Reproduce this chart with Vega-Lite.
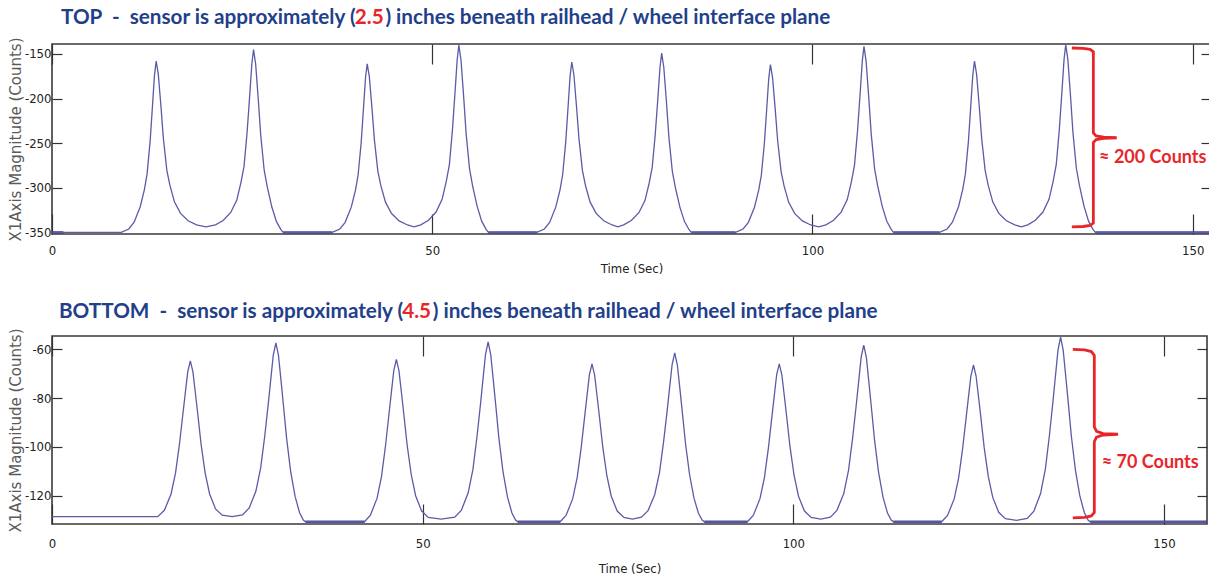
{
  "$schema": "https://vega.github.io/schema/vega-lite/v6.json",
  "background": "white",
  "padding": {"left": 7, "top": 6, "right": 0, "bottom": 0},
  "config": {
    "view": {"stroke": "#3a3a3a", "strokeWidth": 1.6},
    "concat": {"spacing": 24},
    "axis": {"grid": false, "domain": false, "tickColor": "#333333", "tickWidth": 1.2}
  },
  "datasets": {
    "top": [
      {"t": 0, "v": -350},
      {"t": 9.1, "v": -350}, {"t": 10.1, "v": -346.2}, {"t": 10.8, "v": -338.5}, {"t": 11.6, "v": -321.2}, {"t": 12.15, "v": -302.0}, {"t": 12.5, "v": -284.7}, {"t": 12.9, "v": -248.2}, {"t": 13.2, "v": -209.8}, {"t": 13.48, "v": -173.4}, {"t": 13.7, "v": -158},
      {"t": 13.98, "v": -172.8}, {"t": 14.32, "v": -208.1}, {"t": 14.65, "v": -245.2}, {"t": 15.1, "v": -280.4}, {"t": 15.5, "v": -297.1}, {"t": 16.1, "v": -315.7}, {"t": 16.9, "v": -328.7}, {"t": 17.9, "v": -337.0}, {"t": 19.0, "v": -341.6}, {"t": 20.25, "v": -343.8},
      {"t": 21.5, "v": -341.5}, {"t": 22.5, "v": -336.6}, {"t": 23.5, "v": -327.6}, {"t": 24.3, "v": -313.7}, {"t": 24.85, "v": -293.9}, {"t": 25.25, "v": -276.0}, {"t": 25.65, "v": -238.3}, {"t": 25.98, "v": -198.6}, {"t": 26.28, "v": -160.9}, {"t": 26.5, "v": -145},
      {"t": 26.78, "v": -161.4}, {"t": 27.12, "v": -200.4}, {"t": 27.45, "v": -241.4}, {"t": 27.9, "v": -280.3}, {"t": 28.3, "v": -298.8}, {"t": 28.9, "v": -321.3}, {"t": 29.5, "v": -337.7}, {"t": 30.1, "v": -346.9}, {"t": 30.4, "v": -350},
      {"t": 36.85, "v": -350}, {"t": 37.85, "v": -346.2}, {"t": 38.55, "v": -338.7}, {"t": 39.35, "v": -321.7}, {"t": 39.9, "v": -302.8}, {"t": 40.25, "v": -285.7}, {"t": 40.65, "v": -249.8}, {"t": 40.95, "v": -212.0}, {"t": 41.23, "v": -176.1}, {"t": 41.45, "v": -161},
      {"t": 41.73, "v": -175.6}, {"t": 42.07, "v": -210.3}, {"t": 42.4, "v": -246.8}, {"t": 42.85, "v": -281.5}, {"t": 43.25, "v": -297.9}, {"t": 43.85, "v": -316.1}, {"t": 44.65, "v": -328.9}, {"t": 45.65, "v": -337.1}, {"t": 46.75, "v": -341.7}, {"t": 47.6, "v": -343.8},
      {"t": 48.5, "v": -341.5}, {"t": 49.5, "v": -336.4}, {"t": 50.5, "v": -327.2}, {"t": 51.3, "v": -313.0}, {"t": 51.85, "v": -292.6}, {"t": 52.25, "v": -274.3}, {"t": 52.65, "v": -235.6}, {"t": 52.98, "v": -194.9}, {"t": 53.28, "v": -156.3}, {"t": 53.5, "v": -140},
      {"t": 53.78, "v": -156.8}, {"t": 54.12, "v": -196.7}, {"t": 54.45, "v": -238.7}, {"t": 54.9, "v": -278.6}, {"t": 55.3, "v": -297.5}, {"t": 55.9, "v": -320.6}, {"t": 56.5, "v": -337.4}, {"t": 57.1, "v": -346.9}, {"t": 57.4, "v": -350},
      {"t": 63.75, "v": -350}, {"t": 64.75, "v": -346.2}, {"t": 65.45, "v": -338.5}, {"t": 66.25, "v": -321.4}, {"t": 66.8, "v": -302.3}, {"t": 67.15, "v": -285.1}, {"t": 67.55, "v": -248.8}, {"t": 67.85, "v": -210.6}, {"t": 68.13, "v": -174.3}, {"t": 68.35, "v": -159},
      {"t": 68.63, "v": -173.8}, {"t": 68.97, "v": -208.8}, {"t": 69.3, "v": -245.7}, {"t": 69.75, "v": -280.8}, {"t": 70.15, "v": -297.4}, {"t": 70.75, "v": -315.8}, {"t": 71.55, "v": -328.7}, {"t": 72.55, "v": -337.0}, {"t": 73.65, "v": -341.7}, {"t": 74.4, "v": -343.8},
      {"t": 75.17, "v": -341.6}, {"t": 76.17, "v": -336.7}, {"t": 77.17, "v": -327.9}, {"t": 77.97, "v": -314.3}, {"t": 78.52, "v": -294.9}, {"t": 78.92, "v": -277.4}, {"t": 79.32, "v": -240.4}, {"t": 79.65, "v": -201.5}, {"t": 79.95, "v": -164.6}, {"t": 80.17, "v": -149},
      {"t": 80.45, "v": -165.1}, {"t": 80.79, "v": -203.3}, {"t": 81.12, "v": -243.5}, {"t": 81.57, "v": -281.7}, {"t": 81.97, "v": -299.8}, {"t": 82.57, "v": -321.9}, {"t": 83.17, "v": -337.9}, {"t": 83.77, "v": -347.0}, {"t": 84.07, "v": -350},
      {"t": 89.87, "v": -350}, {"t": 90.87, "v": -346.2}, {"t": 91.57, "v": -338.7}, {"t": 92.37, "v": -321.8}, {"t": 92.92, "v": -303.0}, {"t": 93.27, "v": -286.1}, {"t": 93.67, "v": -250.4}, {"t": 93.97, "v": -212.8}, {"t": 94.25, "v": -177.0}, {"t": 94.47, "v": -162},
      {"t": 94.75, "v": -176.5}, {"t": 95.09, "v": -211.0}, {"t": 95.42, "v": -247.3}, {"t": 95.87, "v": -281.8}, {"t": 96.27, "v": -298.1}, {"t": 96.87, "v": -316.3}, {"t": 97.67, "v": -329.0}, {"t": 98.67, "v": -337.1}, {"t": 99.77, "v": -341.7}, {"t": 100.8, "v": -343.8},
      {"t": 101.77, "v": -341.5}, {"t": 102.77, "v": -336.4}, {"t": 103.77, "v": -327.3}, {"t": 104.57, "v": -313.2}, {"t": 105.12, "v": -293.0}, {"t": 105.52, "v": -274.8}, {"t": 105.92, "v": -236.4}, {"t": 106.25, "v": -196.0}, {"t": 106.55, "v": -157.7}, {"t": 106.77, "v": -141.5},
      {"t": 107.05, "v": -158.2}, {"t": 107.39, "v": -197.8}, {"t": 107.72, "v": -239.5}, {"t": 108.17, "v": -279.1}, {"t": 108.57, "v": -297.9}, {"t": 109.17, "v": -320.8}, {"t": 109.77, "v": -337.5}, {"t": 110.37, "v": -346.9}, {"t": 110.67, "v": -350},
      {"t": 116.7, "v": -350}, {"t": 117.7, "v": -346.2}, {"t": 118.4, "v": -338.5}, {"t": 119.2, "v": -321.2}, {"t": 119.75, "v": -302.0}, {"t": 120.1, "v": -284.7}, {"t": 120.5, "v": -248.2}, {"t": 120.8, "v": -209.8}, {"t": 121.08, "v": -173.4}, {"t": 121.3, "v": -158},
      {"t": 121.58, "v": -172.8}, {"t": 121.92, "v": -208.1}, {"t": 122.25, "v": -245.2}, {"t": 122.7, "v": -280.4}, {"t": 123.1, "v": -297.1}, {"t": 123.7, "v": -315.7}, {"t": 124.5, "v": -328.7}, {"t": 125.5, "v": -337.0}, {"t": 126.6, "v": -341.6}, {"t": 127.45, "v": -343.8},
      {"t": 128.3, "v": -341.5}, {"t": 129.3, "v": -336.4}, {"t": 130.3, "v": -327.2}, {"t": 131.1, "v": -312.9}, {"t": 131.65, "v": -292.5}, {"t": 132.05, "v": -274.1}, {"t": 132.45, "v": -235.4}, {"t": 132.78, "v": -194.6}, {"t": 133.08, "v": -155.8}, {"t": 133.3, "v": -139.5},
      {"t": 133.58, "v": -156.3}, {"t": 133.92, "v": -196.3}, {"t": 134.25, "v": -238.4}, {"t": 134.7, "v": -278.4}, {"t": 135.1, "v": -297.4}, {"t": 135.7, "v": -320.5}, {"t": 136.3, "v": -337.4}, {"t": 136.9, "v": -346.8}, {"t": 137.2, "v": -350},
      {"t": 152.4, "v": -350}
    ],
    "bottom": [
      {"t": 0, "v": -128.6}, {"t": 14.26, "v": -128.6},
      {"t": 15.16, "v": -126.0}, {"t": 16.06, "v": -119.3}, {"t": 16.66, "v": -110.7}, {"t": 17.19, "v": -98.9}, {"t": 17.66, "v": -86.4}, {"t": 17.96, "v": -78.4}, {"t": 18.31, "v": -69.2}, {"t": 18.66, "v": -64.7},
      {"t": 19.01, "v": -69.2}, {"t": 19.36, "v": -78.4}, {"t": 19.66, "v": -86.4}, {"t": 20.11, "v": -98.9}, {"t": 20.66, "v": -110.7}, {"t": 21.26, "v": -119.3}, {"t": 22.06, "v": -125.4}, {"t": 22.96, "v": -128.0}, {"t": 24.3, "v": -128.6},
      {"t": 25.7, "v": -127.9}, {"t": 26.6, "v": -125.0}, {"t": 27.5, "v": -118.2}, {"t": 28.15, "v": -108.6}, {"t": 28.7, "v": -95.5}, {"t": 29.2, "v": -81.5}, {"t": 29.5, "v": -72.6}, {"t": 29.85, "v": -62.3}, {"t": 30.2, "v": -57.3},
      {"t": 30.55, "v": -62.4}, {"t": 30.9, "v": -73.0}, {"t": 31.2, "v": -82.3}, {"t": 31.65, "v": -96.6}, {"t": 32.2, "v": -110.2}, {"t": 32.8, "v": -120.4}, {"t": 33.4, "v": -127.0}, {"t": 33.9, "v": -130.0}, {"t": 34.2, "v": -130.7},
      {"t": 42.15, "v": -130.7}, {"t": 42.95, "v": -128.0}, {"t": 43.85, "v": -121.0}, {"t": 44.45, "v": -112.1}, {"t": 44.98, "v": -99.7}, {"t": 45.45, "v": -86.7}, {"t": 45.75, "v": -78.4}, {"t": 46.1, "v": -68.8}, {"t": 46.45, "v": -64.1},
      {"t": 46.8, "v": -68.7}, {"t": 47.15, "v": -78.1}, {"t": 47.45, "v": -86.3}, {"t": 47.9, "v": -99.1}, {"t": 48.45, "v": -111.2}, {"t": 49.05, "v": -120.0}, {"t": 49.85, "v": -126.2}, {"t": 50.75, "v": -128.9}, {"t": 52.5, "v": -129.6},
      {"t": 54.33, "v": -128.8}, {"t": 55.23, "v": -125.9}, {"t": 56.13, "v": -118.9}, {"t": 56.78, "v": -109.2}, {"t": 57.33, "v": -95.7}, {"t": 57.83, "v": -81.6}, {"t": 58.13, "v": -72.4}, {"t": 58.48, "v": -62.0}, {"t": 58.83, "v": -56.9},
      {"t": 59.18, "v": -62.1}, {"t": 59.53, "v": -72.7}, {"t": 59.83, "v": -82.0}, {"t": 60.28, "v": -96.4}, {"t": 60.83, "v": -110.0}, {"t": 61.43, "v": -120.4}, {"t": 62.03, "v": -127.0}, {"t": 62.53, "v": -130.0}, {"t": 62.83, "v": -130.7},
      {"t": 68.54, "v": -130.7}, {"t": 69.34, "v": -128.1}, {"t": 70.24, "v": -121.2}, {"t": 70.84, "v": -112.6}, {"t": 71.37, "v": -100.6}, {"t": 71.84, "v": -87.9}, {"t": 72.14, "v": -79.8}, {"t": 72.49, "v": -70.4}, {"t": 72.84, "v": -65.9},
      {"t": 73.19, "v": -70.4}, {"t": 73.54, "v": -79.5}, {"t": 73.84, "v": -87.5}, {"t": 74.29, "v": -99.9}, {"t": 74.84, "v": -111.7}, {"t": 75.44, "v": -120.2}, {"t": 76.24, "v": -126.3}, {"t": 77.14, "v": -128.9}, {"t": 78.3, "v": -129.6},
      {"t": 79.5, "v": -128.8}, {"t": 80.4, "v": -126.1}, {"t": 81.3, "v": -119.6}, {"t": 81.95, "v": -110.4}, {"t": 82.5, "v": -97.8}, {"t": 83.0, "v": -84.6}, {"t": 83.3, "v": -76.0}, {"t": 83.65, "v": -66.2}, {"t": 84.0, "v": -61.4},
      {"t": 84.35, "v": -66.3}, {"t": 84.7, "v": -76.2}, {"t": 85.0, "v": -85.0}, {"t": 85.45, "v": -98.5}, {"t": 86.0, "v": -111.3}, {"t": 86.6, "v": -121.0}, {"t": 87.2, "v": -127.2}, {"t": 87.7, "v": -130.0}, {"t": 88.0, "v": -130.7},
      {"t": 93.8, "v": -130.7}, {"t": 94.6, "v": -128.1}, {"t": 95.5, "v": -121.2}, {"t": 96.1, "v": -112.6}, {"t": 96.63, "v": -100.6}, {"t": 97.1, "v": -87.9}, {"t": 97.4, "v": -79.8}, {"t": 97.75, "v": -70.4}, {"t": 98.1, "v": -65.9},
      {"t": 98.45, "v": -70.4}, {"t": 98.8, "v": -79.5}, {"t": 99.1, "v": -87.5}, {"t": 99.55, "v": -99.9}, {"t": 100.1, "v": -111.7}, {"t": 100.7, "v": -120.2}, {"t": 101.5, "v": -126.3}, {"t": 102.4, "v": -128.9}, {"t": 103.7, "v": -129.6},
      {"t": 105.0, "v": -128.8}, {"t": 105.9, "v": -125.9}, {"t": 106.8, "v": -119.1}, {"t": 107.45, "v": -109.5}, {"t": 108.0, "v": -96.3}, {"t": 108.5, "v": -82.4}, {"t": 108.8, "v": -73.5}, {"t": 109.15, "v": -63.2}, {"t": 109.5, "v": -58.2},
      {"t": 109.85, "v": -63.3}, {"t": 110.2, "v": -73.7}, {"t": 110.5, "v": -82.9}, {"t": 110.95, "v": -97.0}, {"t": 111.5, "v": -110.4}, {"t": 112.1, "v": -120.6}, {"t": 112.7, "v": -127.1}, {"t": 113.2, "v": -130.0}, {"t": 113.5, "v": -130.7},
      {"t": 120.0, "v": -130.7}, {"t": 120.8, "v": -128.1}, {"t": 121.7, "v": -121.3}, {"t": 122.3, "v": -112.7}, {"t": 122.83, "v": -100.8}, {"t": 123.3, "v": -88.3}, {"t": 123.6, "v": -80.2}, {"t": 123.95, "v": -70.9}, {"t": 124.3, "v": -66.4},
      {"t": 124.65, "v": -70.9}, {"t": 125.0, "v": -80.0}, {"t": 125.3, "v": -88.0}, {"t": 125.75, "v": -100.4}, {"t": 126.3, "v": -112.2}, {"t": 126.9, "v": -120.7}, {"t": 127.7, "v": -126.8}, {"t": 128.6, "v": -129.4}, {"t": 130.1, "v": -130.1},
      {"t": 131.55, "v": -129.3}, {"t": 132.45, "v": -126.3}, {"t": 133.35, "v": -119.1}, {"t": 134.0, "v": -109.0}, {"t": 134.55, "v": -95.1}, {"t": 135.05, "v": -80.5}, {"t": 135.35, "v": -71.1}, {"t": 135.7, "v": -60.3}, {"t": 136.05, "v": -55.0},
      {"t": 136.4, "v": -60.3}, {"t": 136.75, "v": -71.2}, {"t": 137.05, "v": -80.7}, {"t": 137.5, "v": -95.5}, {"t": 138.05, "v": -109.5}, {"t": 138.65, "v": -120.1}, {"t": 139.25, "v": -126.9}, {"t": 139.75, "v": -130.0}, {"t": 140.05, "v": -130.7},
      {"t": 155.8, "v": -130.7}
    ],
    "topFloor": [
      {"t0": 0, "t1": 1.5, "v": -350}, {"t0": 30.4, "t1": 36.85, "v": -350}, {"t0": 57.4, "t1": 63.75, "v": -350},
      {"t0": 84.07, "t1": 89.87, "v": -350}, {"t0": 110.67, "t1": 116.7, "v": -350}, {"t0": 137.2, "t1": 152.4, "v": -350}
    ],
    "bottomFloor": [
      {"t0": 34.2, "t1": 42.15, "v": -130.7}, {"t0": 62.83, "t1": 68.54, "v": -130.7}, {"t0": 88.0, "t1": 93.8, "v": -130.7},
      {"t0": 113.5, "t1": 120.0, "v": -130.7}, {"t0": 140.05, "t1": 155.8, "v": -130.7}
    ],
    "topBrace": [
      {"i": 1, "t": 134.1, "v": -143.3}, {"i": 2, "t": 135.6, "v": -143.6}, {"i": 3, "t": 136.5, "v": -144.8}, {"i": 4, "t": 136.93, "v": -147.5},
      {"i": 5, "t": 136.93, "v": -238.5}, {"i": 6, "t": 137.3, "v": -241.8}, {"i": 7, "t": 138.3, "v": -243.3}, {"i": 8, "t": 140.0, "v": -243.9},
      {"i": 9, "t": 138.3, "v": -244.5}, {"i": 10, "t": 137.3, "v": -246.0}, {"i": 11, "t": 136.93, "v": -249.3}, {"i": 12, "t": 136.93, "v": -339.5},
      {"i": 13, "t": 136.5, "v": -342.2}, {"i": 14, "t": 135.6, "v": -343.4}, {"i": 15, "t": 134.1, "v": -343.7}
    ],
    "bottomBrace": [
      {"i": 1, "t": 137.7, "v": -60.0}, {"i": 2, "t": 139.3, "v": -60.2}, {"i": 3, "t": 140.2, "v": -60.9}, {"i": 4, "t": 140.6, "v": -62.5},
      {"i": 5, "t": 140.6, "v": -91.8}, {"i": 6, "t": 140.9, "v": -93.6}, {"i": 7, "t": 141.8, "v": -94.5}, {"i": 8, "t": 143.8, "v": -94.8},
      {"i": 9, "t": 141.8, "v": -95.1}, {"i": 10, "t": 140.9, "v": -96.0}, {"i": 11, "t": 140.6, "v": -97.8}, {"i": 12, "t": 140.6, "v": -126.9},
      {"i": 13, "t": 140.2, "v": -128.3}, {"i": 14, "t": 139.3, "v": -128.9}, {"i": 15, "t": 137.7, "v": -129.1}
    ],
    "topHeading": [
      {"t": 1.18, "v": -110.1, "label": "TOP\u00a0\u00a0-\u00a0\u00a0sensor is approximately (", "tone": "blue"},
      {"t": 39.81, "v": -110.1, "label": "2.5", "tone": "red"},
      {"t": 43.84, "v": -110.1, "label": ") inches beneath railhead / wheel interface plane", "tone": "blue"}
    ],
    "bottomHeading": [
      {"t": 0.94, "v": -44.6, "label": "BOTTOM\u00a0\u00a0-\u00a0\u00a0sensor is approximately (", "tone": "blue"},
      {"t": 47.23, "v": -44.6, "label": "4.5", "tone": "red"},
      {"t": 51.35, "v": -44.6, "label": ") inches beneath railhead / wheel interface plane", "tone": "blue"}
    ],
    "topNote": [{"t": 144.74, "v": -266.5, "label": "≈ 200 Counts"}],
    "bottomNote": [{"t": 148.14, "v": -106.4, "label": "≈ 70 Counts"}]
  },
  "vconcat": [
    {
      "width": 1159,
      "height": 190,
      "layer": [
        {
          "data": {"name": "topFloor"},
          "mark": {"type": "rule", "color": "#2e2e8c", "strokeWidth": 2.4, "opacity": 0.85, "clip": true},
          "encoding": {
            "x": {"field": "t0", "type": "quantitative", "scale": {"domain": [0, 152.4], "nice": false, "zero": false}, "axis": null},
            "x2": {"field": "t1"},
            "y": {"field": "v", "type": "quantitative", "scale": {"domain": [-351.8, -138.8], "nice": false, "zero": false}, "axis": null}
          }
        },
        {
          "data": {"name": "top"},
          "mark": {"type": "line", "color": "#5b5ba8", "strokeWidth": 1.3, "clip": true},
          "encoding": {
            "x": {"field": "t", "type": "quantitative", "scale": {"domain": [0, 152.4], "nice": false, "zero": false},
              "axis": {"orient": "bottom", "values": [0, 50, 100, 150], "title": "Time (Sec)", "tickSize": -20, "labelPadding": 30, "labelFlush": false,
                "labelFont": "Liberation Sans Narrow, DejaVu Sans Condensed, Liberation Sans, sans-serif", "labelFontSize": 13, "labelColor": "#222222",
                "titleFont": "Liberation Sans Narrow, DejaVu Sans Condensed, Liberation Sans, sans-serif", "titleFontSize": 13, "titleFontWeight": "normal", "titleColor": "#222222", "titlePadding": 5}},
            "y": {"field": "v", "type": "quantitative", "scale": {"domain": [-351.8, -138.8], "nice": false, "zero": false},
              "axis": {"orient": "left", "values": [-350, -300, -250, -200, -150], "labelExpr": "'-' + abs(datum.value)", "tickSize": -10, "labelPadding": 11,
                "labelFont": "Liberation Sans Narrow, DejaVu Sans Condensed, Liberation Sans, sans-serif", "labelFontSize": 13, "labelColor": "#222222",
                "title": "X1Axis Magnitude (Counts)", "titleFont": "DejaVu Sans", "titleFontSize": 15, "titleFontWeight": "normal", "titleColor": "#5a5a5a", "titlePadding": 1}}
          }
        },
        {
          "data": {"name": "topBrace"},
          "mark": {"type": "line", "color": "#e8262a", "strokeWidth": 2.8},
          "encoding": {
            "x": {"field": "t", "type": "quantitative", "scale": {"domain": [0, 152.4], "nice": false, "zero": false},
              "axis": {"orient": "top", "values": [0, 50, 100, 150], "labels": false, "title": null, "tickSize": -20}},
            "y": {"field": "v", "type": "quantitative", "scale": {"domain": [-351.8, -138.8], "nice": false, "zero": false},
              "axis": {"orient": "right", "values": [-350, -300, -250, -200, -150], "labels": false, "title": null, "tickSize": -10}},
            "order": {"field": "i", "type": "quantitative"}
          }
        },
        {
          "data": {"name": "topHeading"},
          "mark": {"type": "text", "align": "left", "baseline": "middle", "font": "Lato", "fontWeight": "bold", "fontSize": 20.7},
          "encoding": {
            "x": {"field": "t", "type": "quantitative", "scale": {"domain": [0, 152.4], "nice": false, "zero": false}, "axis": null},
            "y": {"field": "v", "type": "quantitative", "scale": {"domain": [-351.8, -138.8], "nice": false, "zero": false}, "axis": null},
            "text": {"field": "label"},
            "color": {"field": "tone", "type": "nominal", "scale": {"domain": ["blue", "red"], "range": ["#22408a", "#e8262a"]}, "legend": null}
          }
        },
        {
          "data": {"name": "topNote"},
          "mark": {"type": "text", "align": "center", "baseline": "middle", "font": "Lato", "fontWeight": "bold", "fontSize": 18, "color": "#e8262a"},
          "encoding": {
            "x": {"field": "t", "type": "quantitative", "scale": {"domain": [0, 152.4], "nice": false, "zero": false}, "axis": null},
            "y": {"field": "v", "type": "quantitative", "scale": {"domain": [-351.8, -138.8], "nice": false, "zero": false}, "axis": null},
            "text": {"field": "label"}
          }
        }
      ]
    },
    {
      "width": 1155,
      "height": 188,
      "layer": [
        {
          "data": {"name": "bottomFloor"},
          "mark": {"type": "rule", "color": "#2e2e8c", "strokeWidth": 2.4, "opacity": 0.85, "clip": true},
          "encoding": {
            "x": {"field": "t0", "type": "quantitative", "scale": {"domain": [0, 155.8], "nice": false, "zero": false}, "axis": null},
            "x2": {"field": "t1"},
            "y": {"field": "v", "type": "quantitative", "scale": {"domain": [-131.6, -54.5], "nice": false, "zero": false}, "axis": null}
          }
        },
        {
          "data": {"name": "bottom"},
          "mark": {"type": "line", "color": "#5b5ba8", "strokeWidth": 1.3, "clip": true},
          "encoding": {
            "x": {"field": "t", "type": "quantitative", "scale": {"domain": [0, 155.8], "nice": false, "zero": false},
              "axis": {"orient": "bottom", "values": [0, 50, 100, 150], "title": "Time (Sec)", "tickSize": -20, "labelPadding": 33, "labelFlush": false,
                "labelFont": "Liberation Sans Narrow, DejaVu Sans Condensed, Liberation Sans, sans-serif", "labelFontSize": 13, "labelColor": "#222222",
                "titleFont": "Liberation Sans Narrow, DejaVu Sans Condensed, Liberation Sans, sans-serif", "titleFontSize": 13, "titleFontWeight": "normal", "titleColor": "#222222", "titlePadding": 12}},
            "y": {"field": "v", "type": "quantitative", "scale": {"domain": [-131.6, -54.5], "nice": false, "zero": false},
              "axis": {"orient": "left", "values": [-120, -100, -80, -60], "labelExpr": "'-' + abs(datum.value)", "tickSize": -10, "labelPadding": 11,
                "labelFont": "Liberation Sans Narrow, DejaVu Sans Condensed, Liberation Sans, sans-serif", "labelFontSize": 13, "labelColor": "#222222",
                "title": "X1Axis Magnitude (Counts)", "titleFont": "DejaVu Sans", "titleFontSize": 15, "titleFontWeight": "normal", "titleColor": "#5a5a5a", "titlePadding": 1}}
          }
        },
        {
          "data": {"name": "bottomBrace"},
          "mark": {"type": "line", "color": "#e8262a", "strokeWidth": 2.8},
          "encoding": {
            "x": {"field": "t", "type": "quantitative", "scale": {"domain": [0, 155.8], "nice": false, "zero": false},
              "axis": {"orient": "top", "values": [0, 50, 100, 150], "labels": false, "title": null, "tickSize": -20}},
            "y": {"field": "v", "type": "quantitative", "scale": {"domain": [-131.6, -54.5], "nice": false, "zero": false},
              "axis": {"orient": "right", "values": [-120, -100, -80, -60], "labels": false, "title": null, "tickSize": -10}},
            "order": {"field": "i", "type": "quantitative"}
          }
        },
        {
          "data": {"name": "bottomHeading"},
          "mark": {"type": "text", "align": "left", "baseline": "middle", "font": "Lato", "fontWeight": "bold", "fontSize": 20.7},
          "encoding": {
            "x": {"field": "t", "type": "quantitative", "scale": {"domain": [0, 155.8], "nice": false, "zero": false}, "axis": null},
            "y": {"field": "v", "type": "quantitative", "scale": {"domain": [-131.6, -54.5], "nice": false, "zero": false}, "axis": null},
            "text": {"field": "label"},
            "color": {"field": "tone", "type": "nominal", "scale": {"domain": ["blue", "red"], "range": ["#22408a", "#e8262a"]}, "legend": null}
          }
        },
        {
          "data": {"name": "bottomNote"},
          "mark": {"type": "text", "align": "center", "baseline": "middle", "font": "Lato", "fontWeight": "bold", "fontSize": 18, "color": "#e8262a"},
          "encoding": {
            "x": {"field": "t", "type": "quantitative", "scale": {"domain": [0, 155.8], "nice": false, "zero": false}, "axis": null},
            "y": {"field": "v", "type": "quantitative", "scale": {"domain": [-131.6, -54.5], "nice": false, "zero": false}, "axis": null},
            "text": {"field": "label"}
          }
        }
      ]
    }
  ]
}
